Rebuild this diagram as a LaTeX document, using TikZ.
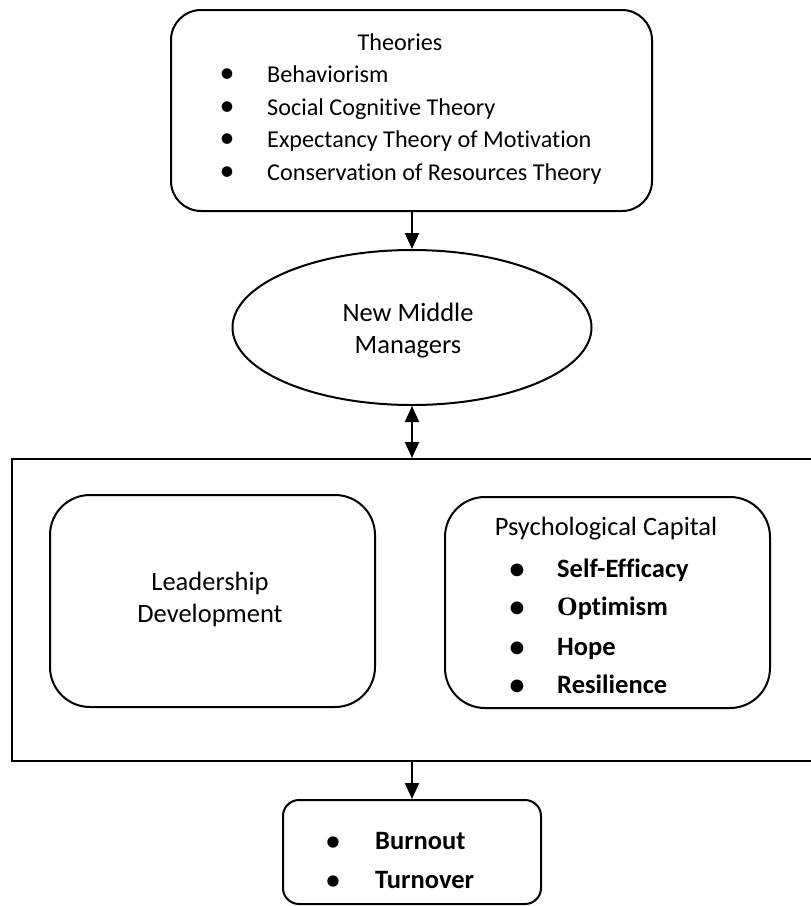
\documentclass[tikz,border=0pt]{standalone}
\usepackage{fontspec}
\setmainfont{Carlito}[Ligatures=NoCommon]
\newfontfamily\serifO{Liberation Serif}
\usetikzlibrary{shapes.geometric,arrows.meta}
\begin{document}
\begin{tikzpicture}[x=1pt,y=-1pt,
  every node/.style={font=\fontsize{26.5}{30}\selectfont},
  boxline/.style={draw=black,line width=2pt,inner sep=0pt},
  rbox/.style={boxline,rectangle},
  txt/.style={inner sep=0pt,anchor=base west},
  btxt/.style={txt,font=\fontsize{26.5}{30}\selectfont\bfseries},
  ttxt/.style={txt,font=\fontsize{24.2}{30}\selectfont},
  ctxt/.style={inner sep=0pt,anchor=base},
  bul/.style={inner sep=0pt,anchor=base},
  tbul/.style={bul,font=\fontsize{30}{30}\selectfont},
  pbul/.style={bul,font=\fontsize{36}{36}\selectfont},
  obul/.style={bul,font=\fontsize{32}{32}\selectfont},
  arr/.style={line width=2pt,-{Triangle[width=14pt,length=16pt]}},
  darr/.style={line width=2pt,{Triangle[width=14pt,length=16pt]}-{Triangle[width=14pt,length=16pt]}}]
\useasboundingbox (0,0) rectangle (811,906);
% boxes
\node[rbox,rounded corners=30pt,minimum width=481pt,minimum height=201pt] (theories) at (411.5,110.5) {};
\node[boxline,ellipse,minimum width=359pt,minimum height=155pt] (mm) at (412,327.5) {};
\node[rbox,minimum width=803pt,minimum height=302pt] (big) at (413.5,610) {};
\node[rbox,rounded corners=40pt,minimum width=325pt,minimum height=212pt] (lead) at (212.5,601) {};
\node[rbox,rounded corners=40pt,minimum width=325pt,minimum height=211pt] (psy) at (607.5,602.5) {};
\node[rbox,rounded corners=16pt,minimum width=258pt,minimum height=104pt] (out) at (412,852) {};
% theories text
\node[ctxt,font=\fontsize{24.2}{30}\selectfont] (th0) at (400,50) {Theories};
\node[tbul] (tb1) at (227,82) {•};
\node[tbul] (tb2) at (227,115) {•};
\node[tbul] (tb3) at (227,147) {•};
\node[tbul] (tb4) at (227,180) {•};
\node[ttxt] (th1) at (267,82) {Behaviorism};
\node[ttxt] (th2) at (267,115) {Social Cognitive Theory};
\node[ttxt] (th3) at (267,147) {Expectancy Theory of Motivation};
\node[ttxt] (th4) at (267,180) {Conservation of Resources Theory};
% middle managers
\node[ctxt] (mm1) at (408,321) {New Middle};
\node[ctxt] (mm2) at (408,353) {Managers};
% leadership
\node[ctxt] (ld1) at (210,590) {Leadership};
\node[ctxt] (ld2) at (210,622) {Development};
% psycap
\node[ctxt] (ps0) at (606,535) {Psychological Capital};
\node[pbul] (pb1) at (517,580) {•};
\node[pbul] (pb2) at (517,618) {•};
\node[pbul] (pb3) at (517,658) {•};
\node[pbul] (pb4) at (517,696) {•};
\node[btxt] (ps1) at (557,577) {Self-Efficacy};
\node[btxt] (ps2) at (557,615) {{\serifO O}ptimism};
\node[btxt] (ps3) at (557,655) {Hope};
\node[btxt] (ps4) at (557,693) {Resilience};
% outcomes
\node[obul] (ob1) at (333,851) {•};
\node[obul] (ob2) at (333,890) {•};
\node[btxt] (oc1) at (375,849) {Burnout};
\node[btxt] (oc2) at (375,888) {Turnover};
% connectors
\draw[arr] (theories.south -| mm.north) -- (mm.north);
\draw[darr] (mm.south) -- (mm.south |- big.north);
\draw[arr] (big.south -| out.north) -- (out.north);
\end{tikzpicture}
\end{document}
